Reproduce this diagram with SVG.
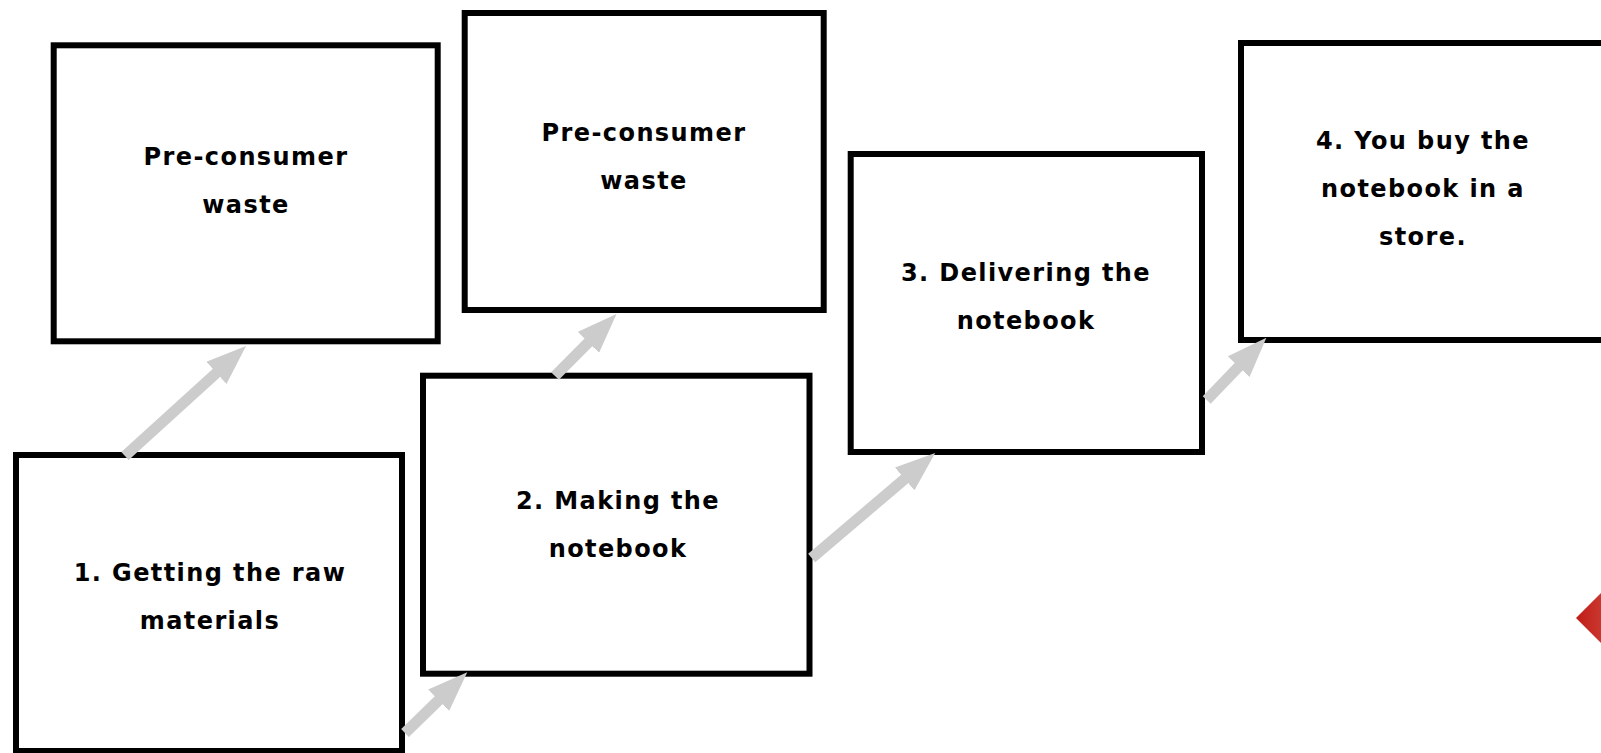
<svg xmlns="http://www.w3.org/2000/svg" width="1601" height="753" viewBox="0 0 1601 753">
<style>
.box{fill:#ffffff;stroke:#000000;stroke-width:6}
.lbl{font-family:"DejaVu Sans","Liberation Sans",sans-serif;font-weight:bold;font-size:24px;letter-spacing:1.4px;fill:#000000;text-anchor:middle}
.arr{stroke:#cccccc;stroke-width:11;fill:none;marker-end:url(#head)}
</style>
<defs>
<marker id="head" markerUnits="userSpaceOnUse" markerWidth="40" markerHeight="30" refX="10" refY="15" orient="auto" viewBox="0 0 40 30">
<path d="M0,0 L40,15 L0,30 z" fill="#cccccc"/>
</marker>
<linearGradient id="red" x1="0" y1="0" x2="1" y2="0">
<stop offset="0" stop-color="#c01c16"/>
<stop offset="1" stop-color="#e07a6a"/>
</linearGradient>
</defs>
<rect width="1601" height="753" fill="#ffffff"/>
<g id="node-waste1">
<rect class="box" x="53.7" y="45.3" width="384" height="296"/>
<text class="lbl" x="246" y="165">Pre-consumer</text>
<text class="lbl" x="246" y="213">waste</text>
</g>
<g id="node-waste2">
<rect class="box" x="464.7" y="13" width="359" height="297"/>
<text class="lbl" x="644" y="141">Pre-consumer</text>
<text class="lbl" x="644" y="189">waste</text>
</g>
<g id="node-step1">
<rect class="box" x="16" y="455" width="386" height="296"/>
<text class="lbl" x="210" y="581">1. Getting the raw</text>
<text class="lbl" x="210" y="629">materials</text>
</g>
<g id="node-step2">
<rect class="box" x="423" y="375.7" width="386.5" height="298"/>
<text class="lbl" x="618" y="509">2. Making the</text>
<text class="lbl" x="618" y="557">notebook</text>
</g>
<g id="node-step3">
<rect class="box" x="850.7" y="154" width="351.3" height="298"/>
<text class="lbl" x="1026" y="281">3. Delivering the</text>
<text class="lbl" x="1026" y="329">notebook</text>
</g>
<g id="node-step4">
<rect class="box" x="1241" y="43" width="400" height="297"/>
<text class="lbl" x="1423" y="149">4. You buy the</text>
<text class="lbl" x="1423" y="197">notebook in a</text>
<text class="lbl" x="1423" y="245">store.</text>
</g>
<g id="connectors">
<line class="arr" x1="125" y1="456" x2="223.8" y2="366.2"/>
<line class="arr" x1="405" y1="733" x2="445.8" y2="693.2"/>
<line class="arr" x1="555" y1="376" x2="595.4" y2="335.3"/>
<line class="arr" x1="811.7" y1="558" x2="912.3" y2="472.5"/>
<line class="arr" x1="1206.7" y1="400" x2="1245.6" y2="359.5"/>
</g>
<polygon id="red-diamond" points="1576,618 1620,574 1664,618 1620,662" fill="url(#red)"/>
</svg>
